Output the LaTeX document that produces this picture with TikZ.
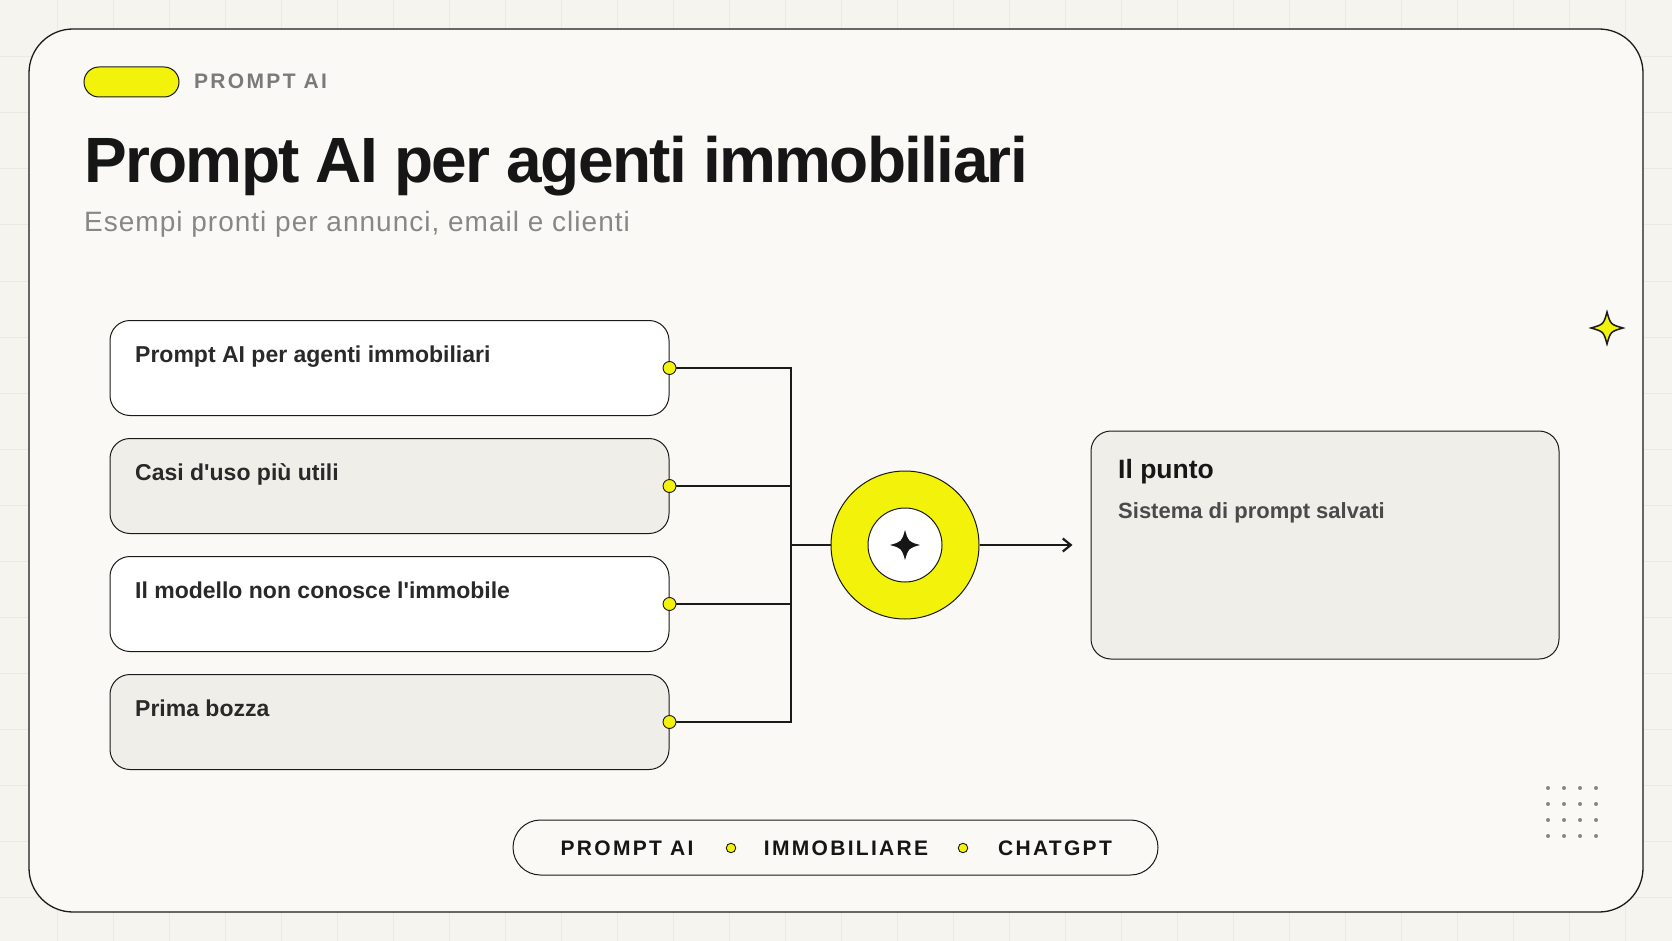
\documentclass[tikz,border=0pt]{standalone}
\usepackage{fontspec}
\setmainfont{Liberation Sans}
\usetikzlibrary{arrows.meta}
\definecolor{accent}{HTML}{F2F20A}
\definecolor{ink}{HTML}{161616}
\definecolor{stroke}{HTML}{1A1A1A}
\definecolor{paper}{HTML}{FAF9F5}
\definecolor{canvas}{HTML}{F5F4EF}
\definecolor{gridline}{HTML}{EAE9E3}
\definecolor{shade}{HTML}{EFEEE8}
\definecolor{muted}{HTML}{7A7A7A}
\definecolor{soft}{HTML}{4A4A4A}
\tikzset{sparkle/.pic={
  \path[pic actions] (0,-1) .. controls (0.22,-0.22) .. (1,0) .. controls (0.22,0.22) .. (0,1)
    .. controls (-0.22,0.22) .. (-1,0) .. controls (-0.22,-0.22) .. (0,-1) -- cycle;
}}

\begin{document}
\begin{tikzpicture}[x=1pt, y=-1pt,
  frame/.style={draw=stroke, line width=1.3pt, fill=paper, rounded corners=44pt,
                minimum width=1614pt, minimum height=883pt, inner sep=0pt},
  item/.style={draw=stroke, line width=1pt, rounded corners=20pt,
               minimum width=559pt, minimum height=95pt, inner sep=0pt},
  itemtext/.style={anchor=base west, inner sep=0pt, text=ink!92,
                   font=\bfseries\fontsize{23}{23}\selectfont},
  port/.style={circle, draw=stroke, line width=0.9pt, fill=accent,
               minimum size=13pt, inner sep=0pt},
  wire/.style={draw=stroke, line width=2.2pt},
  tagword/.style={inner sep=0pt, text=ink,
                  font=\bfseries\fontsize{21}{21}\selectfont\addfontfeatures{LetterSpace=11}},
]
\useasboundingbox (0,0) rectangle (1672,941);
\fill[canvas] (0,0) rectangle (1672,941);
\foreach \x in {57,113,...,1672} \draw[gridline, line width=1pt] (\x,0) -- (\x,941);
\foreach \y in {57,113,...,941} \draw[gridline, line width=1pt] (0,\y) -- (1672,\y);

\node[frame] (card) at (836,470.5) {};

\node[draw=stroke, line width=1pt, fill=accent, rounded corners=15pt, minimum width=95pt,
      minimum height=30pt, inner sep=0pt] (chip) at (131.5,82) {};
\node[tagword, text=muted, anchor=base west] (chiplabel) at (194,89) {PROMPT AI};
\node[anchor=base west, inner sep=0pt, text=ink,
      font=\bfseries\fontsize{64}{64}\selectfont\addfontfeatures{LetterSpace=-2.6}]
  (title) at (84,183) {Prompt AI per agenti immobiliari};
\node[anchor=base west, inner sep=0pt, text=muted!90,
      font=\fontsize{28}{28}\selectfont\addfontfeatures{LetterSpace=3.6}]
  (subtitle) at (84,232) {Esempi pronti per annunci, email e clienti};

\node[item, fill=white] (b1) at (389.5,368) {};
\node[item, fill=shade] (b2) at (389.5,486) {};
\node[item, fill=white] (b3) at (389.5,604) {};
\node[item, fill=shade] (b4) at (389.5,722) {};
\node[itemtext] (t1) at (135,362) {Prompt AI per agenti immobiliari};
\node[itemtext] (t2) at (135,480) {Casi d\textquotesingle uso più utili};
\node[itemtext] (t3) at (135,598) {Il modello non conosce l\textquotesingle immobile};
\node[itemtext] (t4) at (135,716) {Prima bozza};

\node[port] (p1) at (b1.east) {};
\node[port] (p2) at (b2.east) {};
\node[port] (p3) at (b3.east) {};
\node[port] (p4) at (b4.east) {};
\coordinate (bus) at (791,545);

\node[circle, draw=stroke, line width=1pt, fill=accent, minimum size=148pt, inner sep=0pt] (hub) at (905,545) {};
\node[circle, draw=stroke, line width=1pt, fill=white, minimum size=74pt, inner sep=0pt] (core) at (hub) {};
\pic[fill=ink, scale=15] at (hub) {sparkle};

\node[item, fill=shade, minimum width=468pt, minimum height=228pt] (res) at (1325,545) {};
\node[anchor=base west, inner sep=0pt, text=ink, font=\bfseries\fontsize{26.5}{26.5}\selectfont]
  (restitle) at (1118,478) {Il punto};
\node[anchor=base west, inner sep=0pt, text=soft, font=\bfseries\fontsize{22}{22}\selectfont]
  (resnote) at (1118,518) {Sistema di prompt salvati};

\draw[wire] (p1) -| (bus);
\draw[wire] (p2) -- (p2 -| bus);
\draw[wire] (p3) -- (p3 -| bus);
\draw[wire] (p4) -| (bus);
\draw[wire] (bus) -- (hub);
\draw[wire, -{Straight Barb[length=8pt, width=13pt]}] (hub) -- ([xshift=-18pt]res.west);

\pic[fill=accent, draw=stroke, line width=1.5pt, scale=16] at (1607,328) {sparkle};
\foreach \i in {0,...,3}
  \foreach \j in {0,...,3}
    \fill[muted!90] (1548+16*\i,788+16*\j) circle (2pt);

\node[draw=stroke, line width=1pt, fill=paper, rounded corners=27.5pt, minimum width=645pt,
      minimum height=55pt, inner sep=0pt] (tags) at (835.5,847.5) {};
\node[tagword] (w1) at (627,848) {PROMPT AI};
\node[port, minimum size=9.5pt] (s1) at (731,848) {};
\node[tagword] (w2) at (846,848) {IMMOBILIARE};
\node[port, minimum size=9.5pt] (s2) at (963,848) {};
\node[tagword] (w3) at (1055,848) {CHATGPT};

\end{tikzpicture}
\end{document}
